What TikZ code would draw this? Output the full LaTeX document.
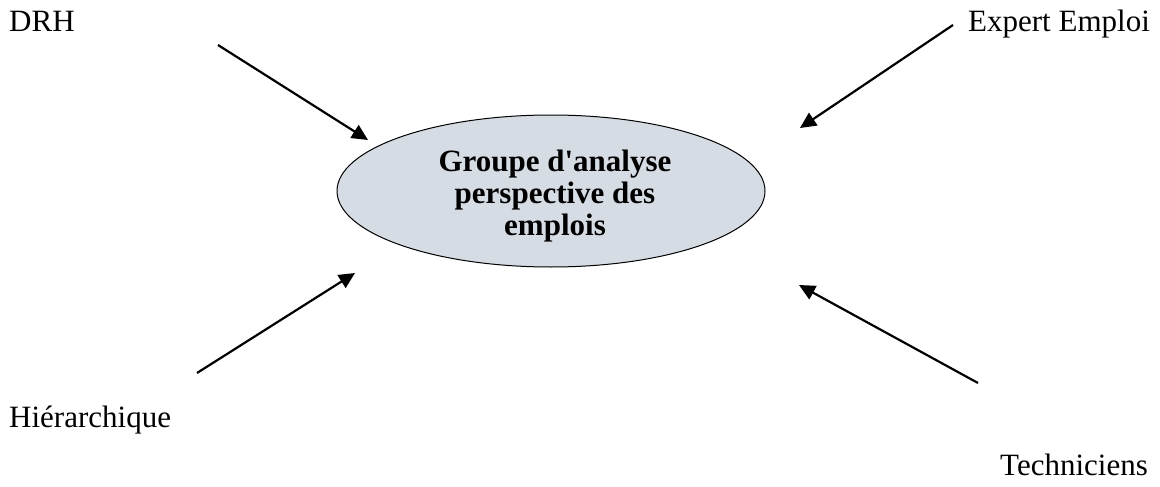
\documentclass[tikz,border=0pt]{standalone}
\usepackage{fontspec}
\setmainfont{Liberation Serif}[Ligatures=TeXOff]
\usetikzlibrary{shapes.geometric,arrows.meta}
\definecolor{ellfill}{HTML}{D6DCE4}
\tikzset{
  lbl/.style={inner sep=0pt, anchor=base west, font=\fontsize{31}{32}\selectfont},
  arr/.style={line width=2.2pt, -{Triangle[length=16pt,width=15pt]}},
  bubble/.style={ellipse, draw=black, line width=1pt, fill=ellfill, minimum width=428pt, minimum height=152pt, inner sep=0pt},
  btext/.style={inner sep=0pt, align=center, font=\fontsize{31}{32}\selectfont\bfseries}
}
\begin{document}
\begin{tikzpicture}[x=1pt,y=-1pt]
\useasboundingbox (0,0) rectangle (1160,487);
\node[bubble] (ell) at (551,191) {};
\node[btext] (title) at (555,196) {Groupe d'analyse\\perspective des\\emplois};
\node[lbl] (drh) at (9,32) {DRH};
\node[lbl] (exp) at (968,32) {Expert Emploi};
\node[lbl] (hier) at (9,427) {Hiérarchique};
\node[lbl] (tech) at (1000,475) {Techniciens};
\coordinate (a1s) at (218,45);  \coordinate (a1e) at (368,140);
\coordinate (a2s) at (953,25);  \coordinate (a2e) at (800,128);
\coordinate (a3s) at (197,373); \coordinate (a3e) at (355,273);
\coordinate (a4s) at (978,383); \coordinate (a4e) at (799,285);
\draw[arr] (a1s) -- (a1e);
\draw[arr] (a2s) -- (a2e);
\draw[arr] (a3s) -- (a3e);
\draw[arr] (a4s) -- (a4e);
\end{tikzpicture}
\end{document}
